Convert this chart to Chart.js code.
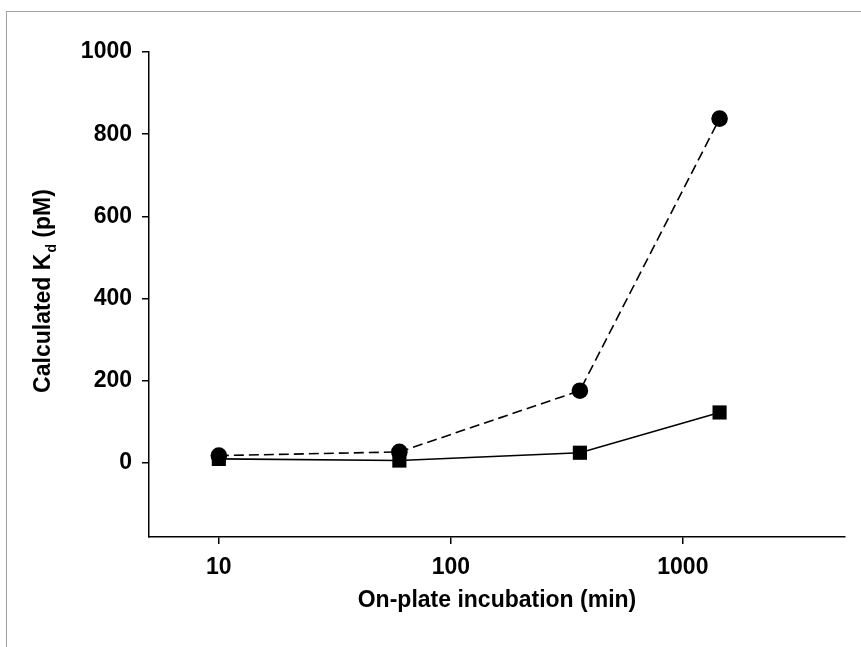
<!DOCTYPE html>
<html>
<head>
<meta charset="utf-8">
<script src="https://cdn.jsdelivr.net/npm/chart.js@4/dist/chart.umd.min.js"></script>
<style>
  html, body { margin: 0; padding: 0; background: #fff; }
  #wrap { position: relative; width: 861px; height: 647px; }
  #frame { position: absolute; left: 6px; top: 11px; right: 0; bottom: 0;
           border-top: 1px solid #a0a0a0; border-left: 1px solid #a0a0a0; }
  #mainGraph { position: absolute; left: 0; top: 0; }
</style>
</head>
<body>
<div id="wrap">
  <div id="frame"></div>
  <canvas id="mainGraph" width="861" height="647"></canvas>
</div>
<script>
// incubation times (min)
var times = [10, 60, 360, 1440];
// calculated Kd (pM), two series
var kdCircles = [18, 27, 176, 838];
var kdSquares = [10, 6, 25, 123];
var xTicks = [10, 100, 1000];
var yTicks = [0, 200, 400, 600, 800, 1000];

var FONT = 'Liberation Sans, Arial, sans-serif';
var FS = 23;

function toPoints(xs, ys) {
    var pts = [];
    for (var i = 0; i < xs.length; i++) pts.push({x: xs[i], y: ys[i]});
    return pts;
}

// y title with subscript d
var yTitle = {
    id: 'yTitle',
    afterDraw: function(chart) {
        var c = chart.ctx, area = chart.chartArea;
        var cy = (area.top + area.bottom) / 2;
        c.save();
        c.translate(42, cy - 3);
        c.rotate(-Math.PI / 2);
        c.fillStyle = '#000';
        c.textBaseline = 'alphabetic';
        var big = 'bold ' + FS + 'px ' + FONT, small = 'bold 14px ' + FONT;
        c.font = big;
        var w1 = c.measureText('Calculated K').width;
        var w3 = c.measureText(' (pM)').width;
        c.font = small;
        var w2 = c.measureText('d').width;
        var x = -(w1 + w2 + w3) / 2, base = 8;
        c.font = big;
        c.fillText('Calculated K', x, base);
        c.font = small;
        c.fillText('d', x + w1 + 1, base + 6);
        c.font = big;
        c.fillText(' (pM)', x + w1 + w2 + 1, base);
        c.restore();
    }
};

var ctx = document.getElementById('mainGraph').getContext('2d');
var chart = new Chart(ctx, {
    type: 'line',
    data: {
        datasets: [{
            label: 'circles',
            data: toPoints(times, kdCircles),
            borderColor: '#000',
            backgroundColor: '#000',
            borderWidth: 1.6,
            borderDash: [10, 5],
            pointStyle: 'circle',
            pointRadius: 8.3,
            pointBorderWidth: 0,
            fill: false
        }, {
            label: 'squares',
            data: toPoints(times, kdSquares),
            borderColor: '#000',
            backgroundColor: '#000',
            borderWidth: 1.6,
            pointStyle: 'rect',
            pointRadius: 10,
            pointBorderWidth: 0,
            fill: false
        }]
    },
    options: {
        responsive: false,
        animation: false,
        layout: { padding: { left: 0, top: 52, right: 16, bottom: 0 } },
        plugins: { legend: { display: false }, tooltip: { enabled: false } },
        scales: {
            x: {
                type: 'logarithmic',
                min: 5,
                max: 5000,
                afterBuildTicks: function(s) { s.ticks = xTicks.map(function(v) { return {value: v}; }); },
                afterFit: function(s) { s.height = 110; },
                grid: { drawOnChartArea: false, drawTicks: true, tickLength: 7, color: '#000', lineWidth: 1.5 },
                border: { display: true, color: '#000', width: 1.5 },
                ticks: {
                    color: '#000', padding: 10, maxRotation: 0,
                    font: { family: FONT, size: FS, weight: 'bold' },
                    callback: function(v) { return String(v); }
                },
                title: {
                    display: true, text: 'On-plate incubation (min)', color: '#000',
                    font: { family: FONT, size: FS, weight: 'bold' },
                    padding: { top: 4, bottom: 33 }
                }
            },
            y: {
                min: -180,
                max: 1000,
                afterBuildTicks: function(s) { s.ticks = yTicks.map(function(v) { return {value: v}; }); },
                afterFit: function(s) { s.width = 149; },
                grid: { drawOnChartArea: false, drawTicks: true, tickLength: 7, color: '#000', lineWidth: 1.5 },
                border: { display: true, color: '#000', width: 1.5 },
                ticks: {
                    color: '#000', padding: 10,
                    font: { family: FONT, size: FS, weight: 'bold' },
                    callback: function(v) { return String(v); }
                }
            }
        }
    },
    plugins: [yTitle]
});
</script>
</body>
</html>
